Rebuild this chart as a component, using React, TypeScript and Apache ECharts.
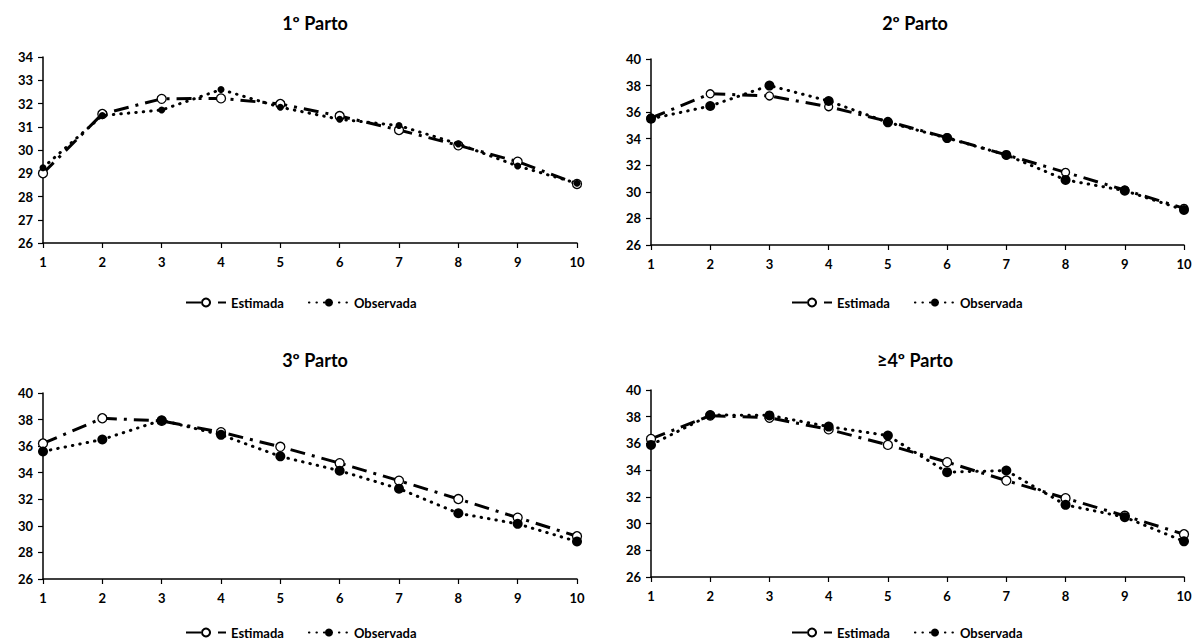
import React, { useEffect, useRef } from "react";
import * as echarts from "echarts";

const weeks = [1, 2, 3, 4, 5, 6, 7, 8, 9, 10];
const panelTitles = ["1º Parto", "2º Parto", "3º Parto", "≥4º Parto"];

const est1 = [29.0, 31.55, 32.2, 32.22, 31.98, 31.46, 30.86, 30.2, 29.5, 28.54];
const obs1 = [29.24, 31.48, 31.72, 32.6, 31.84, 31.32, 31.05, 30.26, 29.31, 28.57];

const est2 = [35.56, 37.38, 37.22, 36.41, 35.3, 34.08, 32.78, 31.47, 30.14, 28.76];
const obs2 = [35.5, 36.46, 38.0, 36.84, 35.23, 34.05, 32.78, 30.9, 30.09, 28.64];

const est3 = [36.2, 38.1, 37.9, 37.05, 35.95, 34.72, 33.4, 32.02, 30.62, 29.22];
const obs3 = [35.6, 36.5, 37.95, 36.85, 35.23, 34.15, 32.8, 30.95, 30.15, 28.82];

const est4 = [36.34, 38.08, 37.92, 37.05, 35.89, 34.6, 33.22, 31.9, 30.58, 29.2];
const obs4 = [35.89, 38.13, 38.1, 37.26, 36.59, 33.85, 33.97, 31.4, 30.48, 28.67];

const yMin = [26, 26, 26, 26];
const yMax = [34, 40, 40, 40];
const yStep = [1, 2, 2, 2];

const estSets = [est1, est2, est3, est4];
const obsSets = [obs1, obs2, obs3, obs4];

const FONT = "Lato, 'Open Sans', sans-serif";

export default function App() {
  const ref = useRef<HTMLDivElement>(null);
  useEffect(() => {
    if (!ref.current) return;
    const chart = echarts.init(ref.current, null, { renderer: "svg" });
    const grids = [
      { left: 43, top: 57, width: 534, height: 186 },
      { left: 651, top: 59, width: 533, height: 186 },
      { left: 43, top: 393, width: 534, height: 186 },
      { left: 651, top: 390, width: 533, height: 187 },
    ];
    const titleCenters = [
      { x: 310, y: 9 },
      { x: 910, y: 9 },
      { x: 310, y: 346 },
      { x: 910, y: 346 },
    ];
    const legendPos = [
      { left: 180, top: 291 },
      { left: 786, top: 291 },
      { left: 180, top: 621 },
      { left: 786, top: 621 },
    ];
    const obsSize = [7, 10, 10, 10];
    const estSize = [9, 8, 9, 9];
    const series: any[] = [];
    for (let i = 0; i < 4; i++) {
      series.push({
        name: "Estimada",
        type: "line",
        xAxisIndex: i,
        yAxisIndex: i,
        data: weeks.map((w, k) => [w, estSets[i][k]]),
        symbol: "circle",
        symbolSize: estSize[i],
        lineStyle: { color: "#000", width: 3, type: [15, 7, 3, 7] },
        itemStyle: { color: "#fff", borderColor: "#000", borderWidth: 1.3 },
        z: 2,
      });
      series.push({
        name: "Observada",
        type: "line",
        xAxisIndex: i,
        yAxisIndex: i,
        data: weeks.map((w, k) => [w, obsSets[i][k]]),
        symbol: "circle",
        symbolSize: obsSize[i],
        lineStyle: { color: "#000", width: 3, type: [0.5, 7], cap: "round" },
        itemStyle: { color: "#000", borderColor: "#000", borderWidth: 0 },
        z: 3,
      });
    }
    const axisLabelStyle = { color: "#000", fontWeight: "bold", fontSize: 13, fontFamily: FONT };
    chart.setOption({
      animation: false,
      backgroundColor: "#fff",
      title: panelTitles.map((t, i) => ({
        text: t,
        left: titleCenters[i].x,
        top: titleCenters[i].y,
        textAlign: "center",
        textStyle: { color: "#000", fontWeight: "bold", fontSize: 18, fontFamily: FONT },
      })),
      legend: legendPos.map((p) => ({
        data: ["Estimada", "Observada"],
        left: p.left,
        top: p.top,
        itemWidth: 40,
        itemHeight: 10,
        itemGap: 24,
        selectedMode: false,
        textStyle: { color: "#000", fontWeight: "bold", fontSize: 13, fontFamily: FONT },
      })),
      grid: grids,
      xAxis: grids.map((_, i) => ({
        type: "value",
        gridIndex: i,
        min: 1,
        max: 10,
        interval: 1,
        axisLine: { show: true, lineStyle: { color: "#000", width: 1.5 } },
        axisTick: { show: true, inside: false, length: 5, lineStyle: { color: "#000", width: 1.2 } },
        axisLabel: { ...axisLabelStyle, margin: 12 },
        splitLine: { show: false },
      })),
      yAxis: grids.map((_, i) => ({
        type: "value",
        gridIndex: i,
        min: yMin[i],
        max: yMax[i],
        interval: yStep[i],
        axisLine: { show: true, lineStyle: { color: "#000", width: 1.5 } },
        axisTick: { show: true, inside: false, length: 5, lineStyle: { color: "#000", width: 1.2 } },
        axisLabel: { ...axisLabelStyle, margin: 10 },
        splitLine: { show: false },
      })),
      series,
    });
    return () => chart.dispose();
  }, []);
  return (
    <div
      ref={ref}
      style={{ position: "fixed", left: 0, top: 0, width: 1197, height: 643, background: "#fff" }}
    />
  );
}
